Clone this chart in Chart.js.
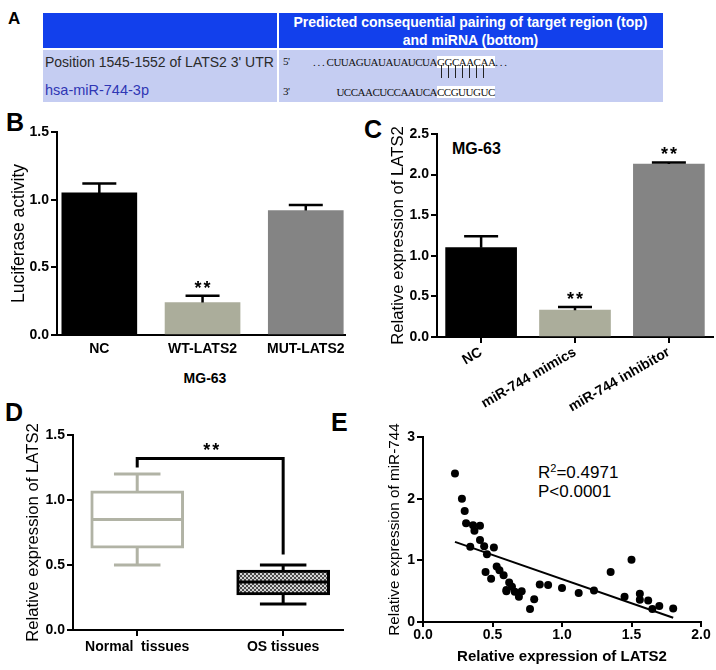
<!DOCTYPE html>
<html>
<head>
<meta charset="utf-8">
<script src="https://cdn.jsdelivr.net/npm/chart.js@4.4.0/dist/chart.umd.min.js"></script>
<style>
body { margin: 0; width: 716px; height: 670px; background: #fff; position: relative; overflow: hidden;
       font-family: "Liberation Sans", Arial, sans-serif; }
.abs { position: absolute; white-space: nowrap; line-height: 1; }
canvas { position: absolute; }
.letter { position: absolute; font-weight: bold; font-size: 25px; line-height: 1; }
.seq { position: absolute; white-space: nowrap; line-height: 1; font-family: "Liberation Serif", serif;
       font-size: 11px; letter-spacing: -0.5px; color: #111; }
.pair { position: absolute; top: 65px; width: 1px; height: 13px; background: #222; }
</style>
</head>
<body>

<!-- Panel A: tabla de emparejamiento -->
<div class="letter" style="left:8px;top:10px;font-size:17px">A</div>
<div class="abs" style="left:43px;top:13px;width:620px;height:35px;background:#1240ec"></div>
<div class="abs" style="left:43px;top:50px;width:620px;height:52px;background:#c5cdf2"></div>
<div class="abs" style="left:277px;top:13px;width:2px;height:89px;background:#fff"></div>
<div class="abs" style="left:278px;width:385px;top:15px;text-align:center;color:#fff;font-weight:bold;font-size:14px">Predicted consequential pairing of target region (top)</div>
<div class="abs" style="left:278px;width:385px;top:33px;text-align:center;color:#fff;font-weight:bold;font-size:14px">and miRNA (bottom)</div>
<div class="abs" style="left:45px;top:55px;font-size:14px;color:#2a2a2a">Position 1545-1552 of LATS2 3' UTR</div>
<div class="abs" style="left:45px;top:83px;font-size:14.5px;color:#2f36b4">hsa-miR-744-3p</div>
<div class="seq" style="left:283px;top:56px">5'</div>
<div class="seq" style="left:283px;top:86px">3'</div>
<div class="seq" style="right:279px;top:57px">. . . CUUAGUAUAUAUCUA</div>
<div class="seq" style="left:437px;top:57px"><span style="background:#fff">GGCAACAA</span>. . .</div>
<div class="pair" style="left:441px"></div>
<div class="pair" style="left:448px"></div>
<div class="pair" style="left:455px"></div>
<div class="pair" style="left:462px"></div>
<div class="pair" style="left:469px"></div>
<div class="pair" style="left:476px"></div>
<div class="pair" style="left:483px"></div>
<div class="seq" style="right:279px;top:87px">UCCAACUCCAAUCA</div>
<div class="seq" style="left:437px;top:87px"><span style="background:#fff">CCGUUGUC</span></div>

<!-- letras y textos de los paneles -->
<div class="letter" style="left:6px;top:110px">B</div>
<div class="letter" style="left:364px;top:117px">C</div>
<div class="letter" style="left:5px;top:400px">D</div>
<div class="letter" style="left:331px;top:410px">E</div>
<div class="abs" style="left:205px;top:371px;transform:translateX(-50%);font-weight:bold;font-size:14px">MG-63</div>
<div class="abs" style="left:452px;top:141px;font-weight:bold;font-size:16px">MG-63</div>
<div class="abs" style="left:538px;top:463px;font-size:17px">R<sup style="font-size:11px;vertical-align:6px">2</sup>=0.4971</div>
<div class="abs" style="left:538px;top:483px;font-size:17px">P&lt;0.0001</div>

<canvas id="chartB" width="360" height="265" style="left:0;top:110px"></canvas>
<canvas id="chartC" width="356" height="305" style="left:360px;top:110px"></canvas>
<canvas id="chartD" width="360" height="275" style="left:0;top:395px"></canvas>
<canvas id="chartE" width="356" height="265" style="left:360px;top:405px"></canvas>

<script>
// Datos del panel B (luciferasa)
const bCategories = ['NC', 'WT-LATS2', 'MUT-LATS2'];
const bMeans = [1.05, 0.24, 0.92];
const bSem = [0.07, 0.05, 0.04];
const bStars = ['', '**', ''];

// Datos del panel C (LATS2 en MG-63)
const cCategories = ['NC', 'miR-744 mimics', 'miR-744 inhibitor'];
const cMeans = [1.10, 0.33, 2.13];
const cSem = [0.14, 0.04, 0.02];
const cStars = ['', '**', '**'];

// Datos del panel D (cajas)
const dCategories = ['Normal  tissues', 'OS tissues'];
const dMin = [0.50, 0.20];
const dQ1 = [0.63, 0.27];
const dMedian = [0.85, 0.37];
const dQ3 = [1.07, 0.46];
const dMax = [1.20, 0.50];
const dBracket = [1.25, 1.32, 0.58]; // pata izquierda, barra, pata derecha

// Datos del panel E (correlación)
const eLats2 = [0.23, 0.28, 0.30, 0.31, 0.36, 0.37, 0.41, 0.41, 0.44, 0.34,
                0.51, 0.46, 0.45, 0.49, 0.53, 0.55, 0.58, 0.60, 0.62, 0.64,
                0.66, 0.69, 0.71, 0.60, 0.77, 0.80, 0.84, 0.90, 1.00, 1.12,
                1.23, 1.35, 1.45, 1.50, 1.56, 1.56, 1.62, 1.65, 1.70, 1.80];
const eMir744 = [2.41, 2.00, 1.80, 1.60, 1.57, 1.48, 1.56, 1.33, 1.23, 1.22,
                 1.21, 1.10, 0.81, 0.70, 0.90, 0.84, 0.76, 0.52, 0.64, 0.57,
                 0.49, 0.41, 0.50, 0.50, 0.21, 0.37, 0.61, 0.60, 0.55, 0.47,
                 0.51, 0.81, 0.41, 1.01, 0.46, 0.36, 0.35, 0.21, 0.26, 0.22];
const eFitX = [0.23, 1.80];
const eFitY = [1.30, 0.07];

Chart.defaults.font.family = '"Liberation Sans", Arial, sans-serif';
Chart.defaults.color = '#000';
Chart.defaults.animation = false;
Chart.defaults.responsive = false;
Chart.defaults.devicePixelRatio = 1;
Chart.defaults.plugins.legend.display = false;
Chart.defaults.plugins.tooltip.enabled = false;

const FONT = '"Liberation Sans", Arial, sans-serif';

function drawStars(ctx, x, y) {
    ctx.font = 'bold 18px ' + FONT;
    ctx.textAlign = 'center';
    ctx.textBaseline = 'alphabetic';
    ctx.fillStyle = '#000';
    ctx.fillText('*', x - 4.5, y);
    ctx.fillText('*', x + 4.5, y);
}

// Eje Y comun
function yAxis(max, step, width, title, titleSize, titlePad, fmt) {
    return {
        min: 0, max: max,
        afterFit: s => { s.width = width; },
        border: { display: true, color: '#000', width: 2 },
        grid: { drawOnChartArea: false, drawTicks: true, tickLength: 6, color: '#000', lineWidth: 2 },
        ticks: { stepSize: step, padding: 2, font: { size: 14, weight: 'bold' }, callback: fmt },
        title: { display: true, text: title, font: { size: titleSize }, padding: { top: titlePad, bottom: 0 } }
    };
}

// Eje X de categorias sobre escala lineal (para ubicar las barras como en la figura)
function catAxis(labels, min, max, height, opts) {
    return Object.assign({
        type: 'linear', min: min, max: max, offset: false,
        afterFit: s => { s.height = height; },
        afterBuildTicks: s => { s.ticks = labels.map((_, i) => ({ value: i })); },
        border: { display: true, color: '#000', width: 2 },
        grid: { drawOnChartArea: false, drawTicks: true, tickLength: 6, color: '#000', lineWidth: 2, offset: false },
        ticks: { autoSkip: false, padding: 2, maxRotation: 0, font: { size: 14, weight: 'bold' },
                 callback: v => labels[v] }
    }, opts || {});
}

// Barras de error + asteriscos
const errorBarPlugin = {
    id: 'errorBars',
    afterDatasetsDraw(chart, args, o) {
        const ctx = chart.ctx, y = chart.scales.y;
        const meta = chart.getDatasetMeta(0);
        ctx.save();
        ctx.strokeStyle = '#000';
        ctx.lineWidth = 2.5;
        meta.data.forEach((bar, i) => {
            const top = y.getPixelForValue(o.means[i] + o.errors[i]);
            const base = y.getPixelForValue(o.means[i]);
            ctx.beginPath();
            ctx.moveTo(bar.x, base);
            ctx.lineTo(bar.x, top);
            ctx.moveTo(bar.x - o.cap, top);
            ctx.lineTo(bar.x + o.cap, top);
            ctx.stroke();
            if (o.stars[i]) drawStars(ctx, bar.x, top - 2);
        });
        ctx.restore();
    }
};

// Panel B
new Chart(document.getElementById('chartB'), {
    type: 'bar',
    data: {
        datasets: [{
            data: bMeans.map((v, i) => ({ x: i, y: v })),
            backgroundColor: ['#000000', '#abad9b', '#848484'],
            barThickness: 75
        }]
    },
    options: {
        layout: { padding: { top: 22, right: 15, left: 0, bottom: 0 } },
        scales: {
            x: catAxis(bCategories, -0.41, 2.38, 40, {
                grid: { display: false, drawTicks: false },
                ticks: { autoSkip: false, padding: 6, maxRotation: 0, font: { size: 14, weight: 'bold' },
                         callback: v => bCategories[v] }
            }),
            y: yAxis(1.5, 0.5, 57, 'Luciferase activity', 17.5, 9, v => v.toFixed(1))
        },
        plugins: { errorBars: { means: bMeans, errors: bSem, stars: bStars, cap: 17 } }
    },
    plugins: [errorBarPlugin]
});

// Panel C
new Chart(document.getElementById('chartC'), {
    type: 'bar',
    data: {
        datasets: [{
            data: cMeans.map((v, i) => ({ x: i, y: v })),
            backgroundColor: ['#000000', '#abad9b', '#848484'],
            barThickness: 71
        }]
    },
    options: {
        layout: { padding: { top: 24, right: 3, left: 0, bottom: 0 } },
        scales: {
            x: catAxis(cCategories, -0.47, 2.47, 78, {
                ticks: { autoSkip: false, padding: 1, minRotation: 30, maxRotation: 30,
                         font: { size: 14, weight: 'bold' }, callback: v => cCategories[v] }
            }),
            y: yAxis(2.5, 0.5, 77, 'Relative expression of LATS2', 16.7, 28, v => v.toFixed(1))
        },
        plugins: { errorBars: { means: cMeans, errors: cSem, stars: cStars, cap: 17 } }
    },
    plugins: [errorBarPlugin]
});

// Patron de la caja de tumores
function hatchPattern() {
    const c = document.createElement('canvas');
    c.width = 4; c.height = 4;
    const g = c.getContext('2d');
    g.fillStyle = '#d4d4d4';
    g.fillRect(0, 0, 4, 4);
    g.fillStyle = '#4a4a4a';
    g.fillRect(0, 0, 2, 2);
    g.fillRect(2, 2, 2, 2);
    return g.createPattern(c, 'repeat');
}

// Bigotes, mediana y corchete de significancia
const boxPlugin = {
    id: 'boxExtras',
    afterDatasetsDraw(chart, args, o) {
        const ctx = chart.ctx, y = chart.scales.y;
        const meta = chart.getDatasetMeta(0);
        ctx.save();
        ctx.lineWidth = 3;
        meta.data.forEach((bar, i) => {
            const hw = bar.width / 2, cw = hw / 2;
            const pMin = y.getPixelForValue(dMin[i]), pMax = y.getPixelForValue(dMax[i]);
            const pQ1 = y.getPixelForValue(dQ1[i]), pQ3 = y.getPixelForValue(dQ3[i]);
            const pMed = y.getPixelForValue(dMedian[i]);
            ctx.strokeStyle = o.colors[i];
            ctx.beginPath();
            ctx.moveTo(bar.x, pQ3); ctx.lineTo(bar.x, pMax);
            ctx.moveTo(bar.x - cw, pMax); ctx.lineTo(bar.x + cw, pMax);
            ctx.moveTo(bar.x, pQ1); ctx.lineTo(bar.x, pMin);
            ctx.moveTo(bar.x - cw, pMin); ctx.lineTo(bar.x + cw, pMin);
            ctx.moveTo(bar.x - hw + 1, pMed); ctx.lineTo(bar.x + hw - 1, pMed);
            ctx.stroke();
        });
        const x0 = meta.data[0].x, x1 = meta.data[1].x;
        const pTop = y.getPixelForValue(dBracket[1]);
        ctx.strokeStyle = '#000';
        ctx.lineJoin = 'miter';
        ctx.beginPath();
        ctx.moveTo(x0, y.getPixelForValue(dBracket[0]));
        ctx.lineTo(x0, pTop);
        ctx.lineTo(x1, pTop);
        ctx.lineTo(x1, y.getPixelForValue(dBracket[2]));
        ctx.stroke();
        drawStars(ctx, (x0 + x1) / 2 + 1, pTop - 2);
        ctx.restore();
    }
};

// Panel D
new Chart(document.getElementById('chartD'), {
    type: 'bar',
    data: {
        datasets: [{
            data: dQ1.map((q, i) => ({ x: i, y: [q, dQ3[i]] })),
            backgroundColor: ['#ffffff', hatchPattern()],
            borderColor: ['#b1b3a5', '#000000'],
            borderWidth: 3,
            borderSkipped: false,
            barThickness: 93
        }]
    },
    options: {
        layout: { padding: { top: 40, right: 17, left: 0, bottom: 0 } },
        scales: {
            x: catAxis(dCategories, -0.44, 1.41, 40, {
                ticks: { autoSkip: false, padding: 3, maxRotation: 0, font: { size: 14, weight: 'bold' },
                         callback: v => dCategories[v] }
            }),
            y: yAxis(1.5, 0.5, 73, 'Relative expression of LATS2', 16.7, 23, v => v.toFixed(1))
        },
        plugins: { boxExtras: { colors: ['#b1b3a5', '#000000'] } }
    },
    plugins: [boxPlugin]
});

// Panel E
new Chart(document.getElementById('chartE'), {
    type: 'scatter',
    data: {
        datasets: [{
            data: eLats2.map((v, i) => ({ x: v, y: eMir744[i] })),
            pointRadius: 4,
            pointBackgroundColor: '#000',
            pointBorderWidth: 0
        }, {
            type: 'line',
            data: eFitX.map((v, i) => ({ x: v, y: eFitY[i] })),
            borderColor: '#000',
            borderWidth: 2,
            pointRadius: 0,
            fill: false
        }]
    },
    options: {
        layout: { padding: { top: 32, right: 15, left: 0, bottom: 0 } },
        scales: {
            x: {
                type: 'linear', min: 0, max: 2,
                afterFit: s => { s.height = 48; },
                border: { display: true, color: '#000', width: 2 },
                grid: { drawOnChartArea: false, drawTicks: true, tickLength: 5, color: '#000', lineWidth: 2 },
                ticks: { stepSize: 0.5, padding: 0, font: { size: 14, weight: 'bold' }, callback: v => v.toFixed(1) },
                title: { display: true, text: 'Relative expression of LATS2', font: { size: 15, weight: 'bold' },
                         padding: { top: 0, bottom: 4 } }
            },
            y: yAxis(3, 1, 63, 'Relative expression of miR-744', 15.3, 26, v => String(v))
        }
    }
});
</script>
</body>
</html>
